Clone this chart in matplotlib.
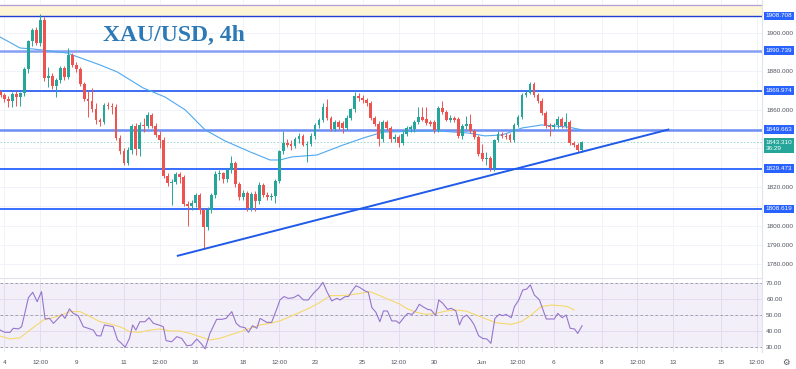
import numpy as np
import matplotlib
matplotlib.use('Agg')
from matplotlib import pyplot as plt

# 4h candles, index 0 = 4 May 00:00
opens = [1869.5, 1867.5, 1865.5, 1864.5, 1868, 1866.5, 1868.5, 1881, 1895.5, 1901.5,
         1894.5, 1906.5, 1876.5, 1877.5, 1872.5, 1875.5, 1881.5, 1877, 1888.5, 1883.5,
         1881, 1873.5, 1865.5, 1864.5, 1860.5, 1854.5, 1853.5, 1862.5, 1862, 1861.5,
         1845.5, 1838.5, 1832.5, 1839, 1851.5, 1839.5, 1852, 1851.5, 1857.5, 1851.5,
         1847, 1844.5, 1825.5, 1822, 1822.5, 1826.5, 1825, 1811, 1810, 1811.5,
         1816, 1808, 1799, 1808, 1816, 1826.5, 1827, 1824, 1829, 1832.5,
         1821.5, 1815, 1817, 1809, 1816.5, 1812.5, 1821, 1816, 1815, 1815.5,
         1823, 1838.5, 1843, 1842.5, 1841.5, 1845, 1846.5, 1842, 1842.5, 1846.5,
         1852, 1854.5, 1861.5, 1856, 1850, 1853.5, 1853, 1850.5, 1856, 1860.5,
         1867, 1866, 1865, 1863.5, 1856, 1852.5, 1845, 1853.5, 1850.5, 1845,
         1846, 1843, 1847.5, 1850, 1850, 1853.5, 1856.5, 1855.5, 1853.5, 1853.5,
         1849.5, 1861, 1859, 1855, 1856, 1855.5, 1846.5, 1851.5, 1852.5, 1849,
         1846, 1837.5, 1834.5, 1835, 1830, 1844.5, 1847.5, 1846.5, 1847, 1844.5,
         1852, 1856.5, 1867.5, 1869, 1873.5, 1867.5, 1864.5, 1858.5, 1851.5, 1851,
         1852, 1855.5, 1851.5, 1853.5, 1843, 1842, 1839]
highs = [1870.5, 1868.5, 1867, 1869.5, 1870, 1869.5, 1882, 1896.5, 1902.5, 1903,
         1909.5, 1908, 1882, 1879, 1876.5, 1883, 1883, 1892, 1889.5, 1885,
         1882, 1874.5, 1870, 1871.5, 1863.5, 1856, 1863.5, 1864, 1863.5, 1863,
         1847, 1840, 1840.5, 1852.5, 1853, 1853.5, 1856, 1859, 1858.5, 1853,
         1849, 1846, 1827.5, 1824, 1828, 1828, 1826, 1812.5, 1813, 1817,
         1817, 1809, 1809.5, 1817, 1828.5, 1829, 1828, 1830, 1836, 1833.5,
         1822.5, 1818.5, 1818, 1817.5, 1818, 1822.5, 1822, 1817.5, 1817, 1824,
         1839, 1849, 1845, 1844.5, 1846, 1848, 1847.5, 1844, 1848, 1853,
         1856, 1863.5, 1865.5, 1857, 1855, 1855, 1854, 1857.5, 1861, 1869.5,
         1868.5, 1867.5, 1866, 1864.5, 1857, 1854, 1855, 1854.5, 1851.5, 1847.5,
         1847, 1849, 1851.5, 1852, 1854.5, 1861.5, 1861.5, 1861.5, 1855, 1855,
         1862, 1864.5, 1860, 1857.5, 1857, 1856.5, 1852.5, 1857, 1858, 1850,
         1847, 1842.5, 1838, 1836, 1845, 1849, 1848.5, 1848, 1848, 1853,
         1857.5, 1868.5, 1870, 1874.5, 1874.5, 1868.5, 1866, 1859.5, 1853, 1853,
         1857, 1856.5, 1858.5, 1854.5, 1844, 1843, 1844]
lows = [1866.5, 1864, 1861.5, 1861.5, 1862, 1862, 1867, 1879, 1893, 1893.5,
        1893, 1875, 1872, 1871, 1866.5, 1874, 1875.5, 1876, 1882.5, 1879.5,
        1872.5, 1864.5, 1856.5, 1859, 1852.5, 1851.5, 1852.5, 1860.5, 1858, 1844.5,
        1837, 1831.5, 1831.5, 1837, 1836.5, 1836, 1848.5, 1850.5, 1850.5, 1846,
        1840, 1824.5, 1820.5, 1810.5, 1821.5, 1822, 1810, 1799.5, 1808, 1809.5,
        1806, 1788, 1797.5, 1806.5, 1814.5, 1823.5, 1822, 1822.5, 1827.5, 1820,
        1813, 1813.5, 1807.5, 1807.5, 1807.5, 1811, 1815, 1813.5, 1813.5, 1811.5,
        1822, 1837, 1840.5, 1839, 1840, 1843, 1841, 1833, 1841, 1845,
        1850.5, 1853.5, 1855, 1849, 1849, 1850, 1848, 1849.5, 1854.5, 1859,
        1864.5, 1863.5, 1862, 1855, 1851.5, 1841.5, 1843.5, 1849.5, 1843.5, 1843.5,
        1840.5, 1842, 1846.5, 1848.5, 1848.5, 1852.5, 1854, 1852, 1851.5, 1848,
        1848.5, 1858, 1854, 1853.5, 1853.5, 1845.5, 1845, 1850, 1848, 1845,
        1836, 1833.5, 1831.5, 1828.5, 1828.5, 1843.5, 1845.5, 1845, 1843.5, 1843.5,
        1851, 1855.5, 1866.5, 1868, 1866.5, 1863.5, 1857.5, 1850.5, 1846.5, 1849.5,
        1850.5, 1850.5, 1850.5, 1842, 1840.5, 1838, 1838]
closes = [1867.5, 1865.5, 1864.5, 1868, 1866.5, 1868.5, 1881, 1895.5, 1901.5, 1894.5,
          1906.5, 1876.5, 1877.5, 1872.5, 1875.5, 1881.5, 1877, 1888.5, 1883.5, 1881,
          1873.5, 1865.5, 1864.5, 1860.5, 1854.5, 1853.5, 1862.5, 1862, 1861.5, 1845.5,
          1838.5, 1832.5, 1839, 1851.5, 1839.5, 1852, 1851.5, 1857.5, 1851.5, 1847,
          1844.5, 1825.5, 1822, 1822.5, 1826.5, 1825, 1811, 1810, 1811.5, 1816,
          1808, 1799, 1808, 1816, 1826.5, 1827, 1824, 1829, 1832.5, 1821.5,
          1815, 1817, 1809, 1816.5, 1812.5, 1821, 1816, 1815, 1815.5, 1823,
          1838.5, 1843, 1842, 1841.5, 1845, 1846.5, 1842, 1842.5, 1846.5, 1852,
          1854.5, 1861.5, 1856, 1850, 1853.5, 1851, 1850.5, 1856, 1860.5, 1867,
          1866, 1865, 1863.5, 1856, 1852.5, 1845, 1853.5, 1850.5, 1845, 1846,
          1843, 1847.5, 1850.5, 1851, 1853.5, 1856.5, 1855, 1853, 1852.5, 1849.5,
          1861, 1859, 1855, 1856, 1855, 1846.5, 1851.5, 1852.5, 1849, 1846,
          1837, 1834.5, 1835, 1830, 1844.5, 1847.5, 1846.5, 1846, 1844.5, 1852,
          1856.5, 1867.5, 1869, 1873.5, 1867.5, 1864.5, 1858.5, 1851.5, 1851, 1852,
          1855.5, 1851.5, 1853.5, 1843, 1842, 1839, 1843.31]
first_idx = -1

# moving average on price
ma_idx = [-1.1, 3.9, 7.2, 15.7, 24.0, 28.3, 34.8, 40.3, 45.4, 50.4, 55.4, 61.7, 66.7, 69.2,
          72.2, 78.5, 85.1, 90.1, 95.1, 108.7, 116.5, 120.7, 125.0, 130.0, 135.0, 141.6, 145.1]
ma_val = [1897.8, 1892.1, 1891.6, 1889.5, 1883.3, 1879.7, 1871.4, 1866.7, 1860.0, 1849.6,
          1843.9, 1838.2, 1834.0, 1834.0, 1835.6, 1836.6, 1841.8, 1845.4, 1848.5, 1849.1,
          1848.0, 1846.5, 1847.0, 1850.6, 1852.2, 1851.1, 1849.6]

levels = [1908.708, 1890.739, 1869.974, 1849.663, 1829.473, 1808.619]
level_colors = ['#1f3fd6', '#86a0f4', '#2f62f2', '#6d8ff5', '#2962ff', '#2962ff']
level_widths = [1.0, 1.8, 1.3, 1.8, 1.3, 1.3]
band_top = 1914.4
last_price = 1843.31
countdown = '36:29'

trend_idx = [43.3, 167.0]
trend_val = [1784.2, 1849.9]

rsi_idx = [-1.1, 0.1, 1.4, 2.2, 3.5, 4.3, 5.2, 6.0, 7.1, 8.2, 9.3, 10.2, 11.3, 12.3, 13.5,
           14.4, 15.2, 16.3, 17.3, 18.5, 19.8, 21.0, 22.3, 23.2, 24.2, 25.1, 26.1, 27.3,
           28.4, 29.4, 30.3, 31.4, 32.2, 33.0, 34.0, 35.3, 36.3, 37.4, 38.7, 39.9, 40.6,
           42.0, 43.3, 44.5, 45.8, 47.0, 48.3, 49.5, 50.4, 51.6, 53.3, 54.6, 55.7, 57.1,
           58.2, 59.2, 60.4, 61.3, 62.3, 63.4, 64.2, 65.9, 67.1, 68.4, 69.2, 70.2, 71.3,
           72.6, 73.8, 75.1, 76.3, 77.6, 78.9, 80.0, 81.0, 82.2, 83.5, 84.3, 85.6, 86.4,
           87.2, 88.3, 89.3, 90.6, 91.4, 92.3, 93.3, 94.3, 95.2, 96.2, 97.3, 98.4, 99.2,
           100.5, 101.3, 102.4, 103.4, 104.2, 105.1, 106.3, 107.2, 108.3, 109.1, 110.1,
           111.3, 112.2, 113.4, 114.3, 115.1, 116.1, 117.2, 118.0, 119.1, 120.1, 121.2,
           122.2, 123.2, 124.3, 125.2, 126.0, 127.3, 128.1, 129.2, 130.2, 131.2, 132.1,
           133.1, 134.4, 136.1, 137.3, 138.1, 139.0, 140.1, 141.1, 142.1, 143.2, 144.0, 145.1]
rsi_val = [40.6, 39.2, 39.2, 41.7, 41.3, 42.7, 52.1, 60.8, 64.2, 58.3, 64.6, 47.5, 47.9, 44.8,
           47.9, 50.4, 47.9, 53.8, 51.0, 49.6, 42.7, 41.7, 40.6, 37.1, 36.9, 43.8, 43.3, 42.7,
           34.4, 32.3, 29.8, 35.4, 43.8, 40.6, 45.8, 45.8, 48.3, 44.8, 43.8, 42.7, 34.0, 33.3,
           36.5, 35.4, 30.8, 31.2, 35.0, 31.9, 28.8, 38.5, 47.3, 47.3, 47.9, 52.1, 44.8, 42.7,
           42.1, 39.2, 43.3, 41.7, 47.9, 45.4, 45.4, 53.8, 59.4, 61.5, 60.4, 60.8, 62.5, 59.4,
           59.4, 63.5, 66.7, 70.4, 64.6, 58.8, 60.4, 59.4, 61.5, 61.5, 64.6, 68.3, 67.1, 65.0,
           64.2, 54.6, 51.7, 45.8, 52.5, 52.5, 46.3, 46.3, 44.8,
           49.0, 51.0, 50.4, 53.1, 56.7, 55.2, 53.5, 53.1, 49.6, 59.4, 57.3, 53.5, 54.2, 52.5,
           43.8, 48.3, 50.0, 46.9, 43.8, 37.1, 35.4, 35.0, 32.3, 47.9, 50.4, 49.6, 50.4, 48.3,
           55.2, 59.4, 65.6, 66.2, 68.8, 62.5, 59.4, 47.5, 47.5, 47.5, 51.0, 48.3, 50.0, 41.7,
           41.3, 38.5, 43.3]
rsi_ma_idx = [-1.1, 1.4, 3.9, 6.4, 9.8, 13.1, 16.5, 19.0, 21.5, 24.0, 26.5, 29.0, 31.5,
              34.0, 36.6, 39.1, 41.6, 44.1, 46.6, 49.1, 51.6, 54.1, 56.6, 59.2, 61.7,
              64.2, 66.7, 69.2, 71.7, 74.2, 76.8, 79.3, 81.8, 84.3, 86.8, 89.3, 91.8,
              94.3, 96.8, 99.4, 100.9, 103.4, 105.9, 108.4, 110.9, 113.4, 115.9, 118.5,
              121.0, 123.5, 124.8, 127.3, 129.8, 132.3, 134.8, 137.3, 139.8, 141.5, 143.1]
rsi_ma_val = [36.9, 35.0, 35.8, 40.6, 46.9, 49.0, 52.1, 52.1, 49.0, 45.8, 44.4, 42.7, 39.6,
              39.2, 40.6, 41.3, 40.0, 40.0, 38.5, 36.5, 34.4, 35.4, 37.5, 39.6, 41.7, 43.8,
              44.8, 46.3, 49.0, 51.7, 54.6, 57.9, 62.1, 62.1, 62.5, 63.5, 64.6, 62.1, 59.4,
              56.7, 54.2, 51.7, 50.4, 51.0, 52.5, 53.1, 52.5, 50.0, 47.5, 45.2, 44.8, 44.2,
              45.8, 50.0, 55.2, 56.2, 55.8, 55.2, 53.1]

price_ticks = [1780, 1790, 1800, 1810, 1820, 1830, 1840, 1850, 1860, 1870, 1880, 1890, 1900, 1910]
# ticks whose labels sit under a level box in the original
hidden_ticks = [1810, 1830, 1840, 1850, 1870, 1890, 1910]

date_ticks = [0, 9, 18, 30, 39, 48, 60, 69, 78, 90, 99, 108, 120, 129, 138, 150, 159, 168, 180, 189]
date_labels = ['4', '12:00', '9', '11', '12:00', '16', '18', '12:00', '23', '25', '12:00',
               '30', 'Jun', '12:00', '6', '8', '12:00', '13', '15', '12:00']

UP = '#26a69a'
DOWN = '#ef5350'
GRID = '#f0f3fa'
TXT = '#50535e'
LBL_FONT = ['Liberation Sans', 'DejaVu Sans']
LBL_SIZE = 4.6

W, H = 796, 369
fig = plt.figure(figsize=(W / 100, H / 100), dpi=100)
ax = fig.add_axes([0, 1 - 277 / H, 762 / W, 277 / H])
rax = fig.add_axes([0, 1 - 352 / H, 762 / W, 74 / H])

xlim = (-1.13, 190.3)

# ---- main panel
ax.set_xlim(*xlim)
ax.set_ylim(1773.3, 1917.0)
ax.set_xticks(date_ticks)
ax.set_yticks(price_ticks)
ax.yaxis.tick_right()
ax.set_yticklabels(['' if v in hidden_ticks else '%.3f' % v for v in price_ticks],
                   family=LBL_FONT)
ax.tick_params(axis='y', length=0, pad=3, labelsize=LBL_SIZE, labelcolor=TXT)
ax.tick_params(axis='x', length=0, labelbottom=False)
ax.grid(True, color=GRID, linewidth=0.7)
ax.set_axisbelow(True)
for s in ax.spines.values():
    s.set_visible(False)
ax.spines['right'].set_visible(True)
ax.spines['right'].set_color('#e0e3eb')

ax.axhspan(levels[0], band_top, color='#fdf5d5', zorder=1)
ax.axhline(band_top, color='#b39ddb', linewidth=0.9, zorder=2)

for lv, col, lw in zip(levels, level_colors, level_widths):
    ax.axhline(lv, color=col, linewidth=lw, zorder=2)

ax.axhline(last_price, color=UP, linewidth=0.6, linestyle=(0, (2, 2)), alpha=0.5, zorder=2)

ax.plot(ma_idx, ma_val, color='#4fa8f0', linewidth=0.8, zorder=3)

idx = np.arange(len(opens)) + first_idx
o = np.array(opens)
c = np.array(closes)
up = c >= o
colors = np.where(up, UP, DOWN)
ax.vlines(idx, lows, highs, colors=colors, linewidth=0.7, zorder=4)
ax.bar(idx, np.maximum(np.abs(c - o), 0.35), bottom=np.minimum(o, c), width=0.7,
       color=colors, linewidth=0, zorder=4)

ax.plot(trend_idx, trend_val, color='#1f5ae8', linewidth=1.4, zorder=5, solid_capstyle='butt')

trans = ax.get_yaxis_transform()
for lv in levels:
    ax.text(1.005, lv, '%.3f' % lv, transform=trans, ha='left', va='center',
            fontsize=LBL_SIZE, family=LBL_FONT, color='white', clip_on=False, zorder=6,
            bbox=dict(boxstyle='square,pad=0.3', fc='#2962ff', ec='none'))
ax.text(1.005, last_price - 1.6, '%.3f\n%s' % (last_price, countdown), transform=trans,
        ha='left', va='center', fontsize=LBL_SIZE, family=LBL_FONT, color='white',
        clip_on=False, zorder=6, linespacing=1.3,
        bbox=dict(boxstyle='square,pad=0.3', fc=UP, ec='none'))

fig.text(103 / W, 1 - 41 / H, 'XAU/USD, 4h', fontsize=17, fontweight='bold',
         family=['Liberation Serif', 'DejaVu Serif'], color='#2d79b5', va='baseline')

# ---- RSI panel
rax.set_xlim(*xlim)
rax.set_ylim(26.9, 73.1)
rax.axhspan(30, 70, color='#7e57c2', alpha=0.09, linewidth=0)
for v in (70, 50, 30):
    rax.axhline(v, color='#9598a1', linewidth=0.6, linestyle=(0, (3, 3)))
rax.plot(rsi_ma_idx, rsi_ma_val, color='#f5d96b', linewidth=0.8)
rax.plot(rsi_idx, rsi_val, color='#9575cd', linewidth=0.8)
rax.set_yticks([30, 40, 50, 60, 70])
rax.set_yticklabels(['%.2f' % v for v in (30, 40, 50, 60, 70)], family=LBL_FONT)
rax.yaxis.tick_right()
rax.set_xticks(date_ticks)
rax.set_xticklabels(date_labels, family=LBL_FONT)
rax.tick_params(axis='y', length=0, pad=3, labelsize=LBL_SIZE, labelcolor=TXT)
rax.tick_params(axis='x', length=0, pad=6, labelsize=LBL_SIZE, labelcolor=TXT)
rax.grid(True, color='#ebe6f5', linewidth=0.6)
rax.set_axisbelow(True)
for s in rax.spines.values():
    s.set_visible(False)
rax.spines['right'].set_visible(True)
rax.spines['right'].set_color('#e0e3eb')
rax.spines['top'].set_visible(True)
rax.spines['top'].set_color('#e0e3eb')

fig.text(786 / W, 1 - 362 / H, '\u2699', fontsize=6, color=TXT, ha='center', va='center')

fig.savefig('out.png', dpi=100)
